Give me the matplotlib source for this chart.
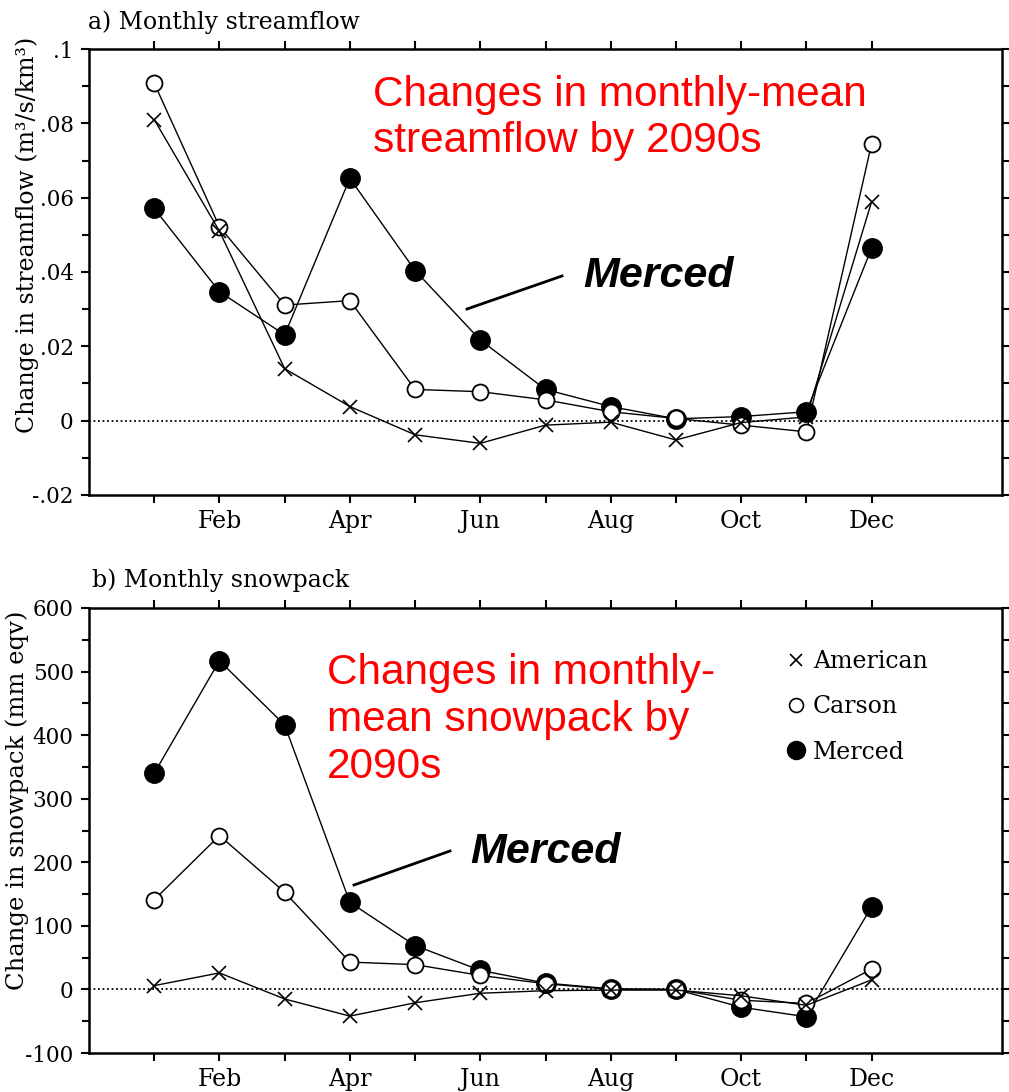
import numpy as np
import matplotlib
matplotlib.use('Agg')
import matplotlib.pyplot as plt
from matplotlib.lines import Line2D
from matplotlib.transforms import ScaledTranslation

plt.rcParams['font.family'] = 'DejaVu Serif'

# months Jan..Dec
months = np.arange(1, 13)
month_labels = ['', 'Feb', '', 'Apr', '', 'Jun', '', 'Aug', '', 'Oct', '', 'Dec']

# a) change in monthly streamflow (m3/s/km3)
flow_american = [0.081, 0.051, 0.014, 0.0038, -0.0038, -0.0061, -0.0012, -0.0004, -0.0052, -0.0005, 0.0010, 0.0589]
flow_carson = [0.0908, 0.0522, 0.0311, 0.0323, 0.0084, 0.0078, 0.0056, 0.0024, 0.0006, -0.0012, -0.0030, 0.0745]
flow_merced = [0.0571, 0.0347, 0.0231, 0.0652, 0.0404, 0.0217, 0.0084, 0.0038, 0.0005, 0.0011, 0.0024, 0.0464]
flow_yticks = [-0.02, 0, 0.02, 0.04, 0.06, 0.08, 0.1]
flow_yticklabels = ['-.02', '0', '.02', '.04', '.06', '.08', '.1']

# b) change in monthly snowpack (mm eqv)
snow_american = [6, 26, -15, -42, -21, -6, -2, -1, -1, -10, -25, 15]
snow_carson = [141, 242, 153, 43, 39, 22, 9, 0, 0, -17, -22, 32]
snow_merced = [340, 517, 416, 137, 69, 30, 10, 1, 0, -28, -43, 130]
snow_yticks = [-100, 0, 100, 200, 300, 400, 500, 600]
snow_yticklabels = ['-100', '0', '100', '200', '300', '400', '500', '600']

W, H = 1009, 1092
fig = plt.figure(figsize=(W / 100, H / 100), dpi=100)


def fx(x):
    return x / W


def fy(y):
    return 1 - y / H


ax1 = fig.add_axes([fx(89), fy(495), 913 / W, 446 / H])
ax2 = fig.add_axes([fx(89), fy(1053), 913 / W, 445 / H])


def style(ax, yticks, yticklabels, ylim):
    ax.set_xlim(0, 14)
    ax.set_ylim(*ylim)
    ax.set_xticks(months)
    ax.set_xticklabels(month_labels, fontsize=17)
    # month names sit a little right of their ticks
    shift = ScaledTranslation(11 / 100, 0, fig.dpi_scale_trans)
    for lab in ax.get_xticklabels():
        lab.set_transform(lab.get_transform() + shift)
    ax.set_yticks(yticks)
    ax.set_yticklabels(yticklabels, fontsize=15.5)
    step = yticks[1] - yticks[0]
    ax.set_yticks(np.array(yticks[:-1]) + step / 2, minor=True)
    ax.tick_params(which='both', direction='out', top=True, right=True, width=1.5)
    ax.tick_params(which='major', length=6, pad=5)
    ax.tick_params(which='minor', length=5)
    for s in ax.spines.values():
        s.set_linewidth(1.8)
    ax.axhline(0, color='k', ls=(0, (1, 1.5)), lw=1.3, zorder=1)


def draw(ax, am, ca, me):
    ax.plot(months, me, '-', color='k', lw=1, marker='o', ms=14, mfc='k', mec='k', zorder=3)
    ax.plot(months, ca, '-', color='k', lw=1, marker='o', ms=11.5, mfc='white', mec='k', mew=1.3, zorder=4)
    ax.plot(months, am, '-', color='k', lw=1, marker='x', ms=10, mew=1.2, zorder=5)


style(ax1, flow_yticks, flow_yticklabels, (-0.02, 0.1))
draw(ax1, flow_american, flow_carson, flow_merced)
style(ax2, snow_yticks, snow_yticklabels, (-100, 600))
draw(ax2, snow_american, snow_carson, snow_merced)

# panel titles and axis labels
fig.text(fx(88), fy(22), 'a) Monthly streamflow', fontsize=17, va='center', ha='left')
fig.text(fx(92), fy(580), 'b) Monthly snowpack', fontsize=17, va='center', ha='left')
fig.text(fx(27), fy(235), 'Change in streamflow (m³/s/km³)', fontsize=17, rotation=90, va='center', ha='center')
fig.text(fx(17), fy(800), 'Change in snowpack (mm eqv)', fontsize=17.5, rotation=90, va='center', ha='center')

# red notes
fig.text(fx(373), fy(75), 'Changes in monthly-mean\nstreamflow by 2090s', fontsize=30.5, color='red',
         family='Liberation Sans', va='top', ha='left', linespacing=1.18)
fig.text(fx(327), fy(653), 'Changes in monthly-\nmean snowpack by\n2090s', fontsize=30.5, color='red',
         family='Liberation Sans', va='top', ha='left', linespacing=1.22)

# Merced call-outs
fig.text(fx(583), fy(276), 'Merced', fontsize=31, fontweight='bold', fontstyle='italic',
         family='Liberation Sans', va='center', ha='left')
fig.text(fx(470), fy(852), 'Merced', fontsize=31, fontweight='bold', fontstyle='italic',
         family='Liberation Sans', va='center', ha='left')
fig.add_artist(Line2D([fx(467), fx(562)], [fy(309), fy(276)], color='k', lw=2))
fig.add_artist(Line2D([fx(354), fx(450)], [fy(885), fy(851)], color='k', lw=2))

# legend
handles = [
    Line2D([], [], ls='none', marker='x', color='k', ms=8, mew=1.2),
    Line2D([], [], ls='none', marker='o', mfc='white', mec='k', ms=10, mew=1.2),
    Line2D([], [], ls='none', marker='o', color='k', ms=13),
]
ax2.legend(handles, ['American', 'Carson', 'Merced'], loc='upper left',
           bbox_to_anchor=(fx(775), fy(638)), bbox_transform=fig.transFigure,
           frameon=False, fontsize=17, handlelength=0.8, handletextpad=0.3,
           labelspacing=0.95, borderpad=0)

fig.savefig('out.png', dpi=100)
